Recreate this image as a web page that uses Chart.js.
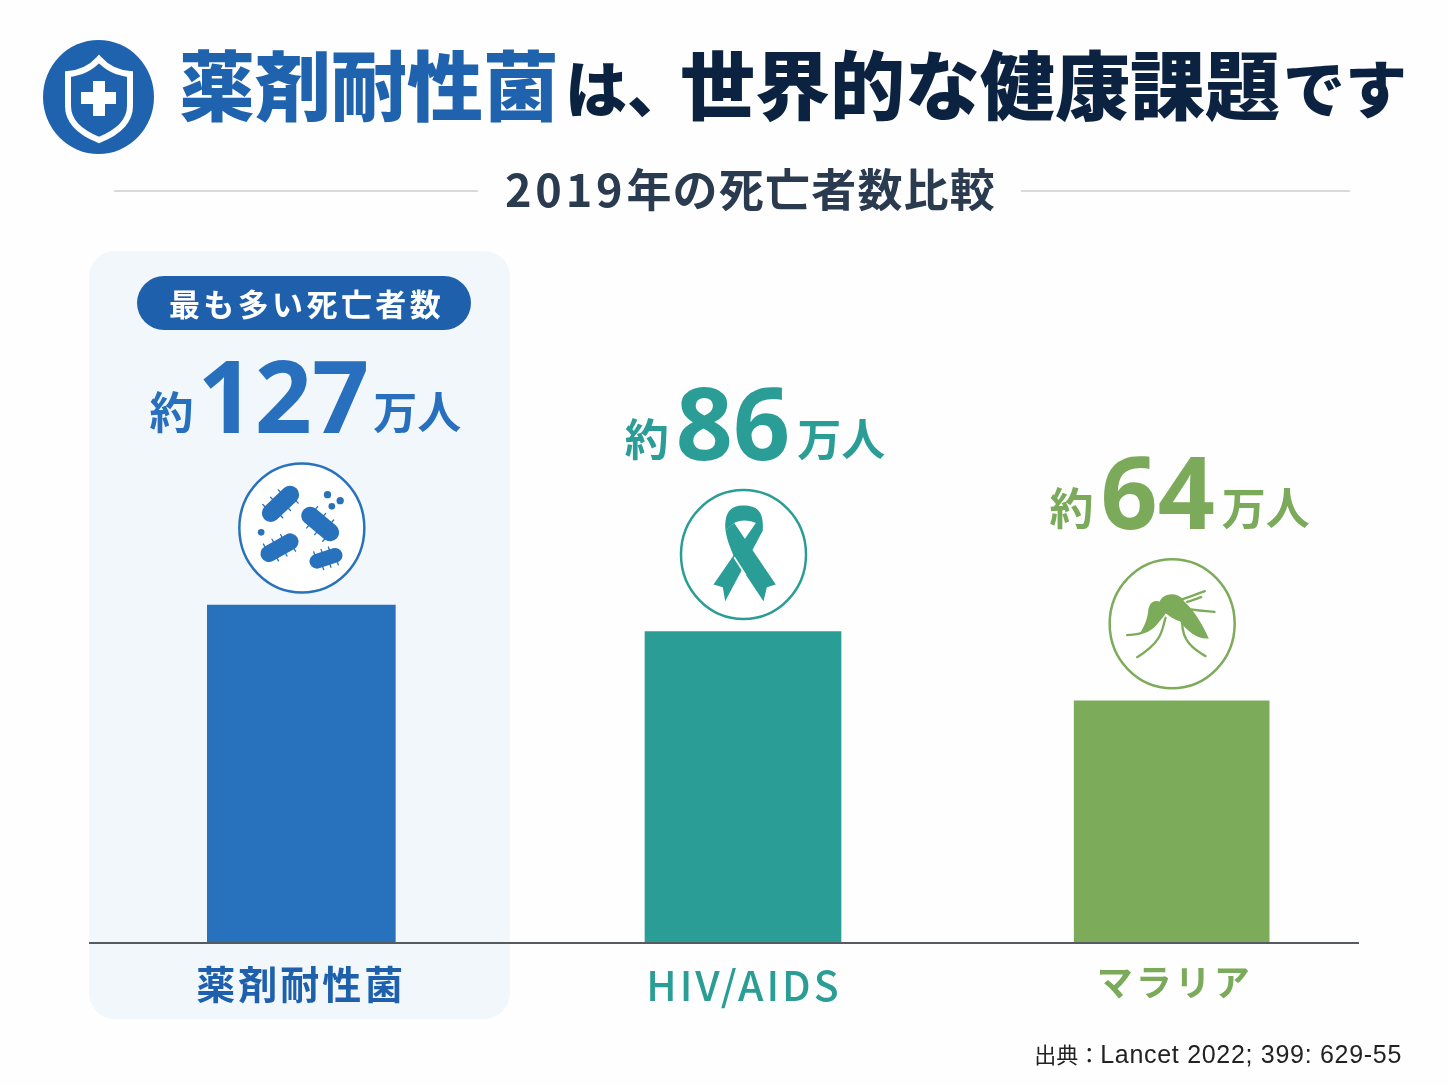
<!DOCTYPE html>
<html lang="ja">
<head>
<meta charset="utf-8">
<title>薬剤耐性菌は、世界的な健康課題です</title>
<script src="https://cdn.jsdelivr.net/npm/chart.js@4/dist/chart.umd.min.js"></script>
<style>
  html, body { margin: 0; padding: 0; background: #fefefe; }
  body { position: relative; width: 1448px; height: 1086px; overflow: hidden; font-family: "Noto Sans CJK JP", sans-serif; }
  #panel { position: absolute; left: 89px; top: 251px; width: 421px; height: 768px; border-radius: 26px; background: #f1f7fb; }
  #lineChart { position: absolute; left: 0; top: 0; }
  .t { position: absolute; white-space: nowrap; font-weight: 900; line-height: 1; }
  .blue { color: #1f62ae; }
  .navy { color: #0b2340; }
  .rule { position: absolute; height: 2px; top: 190px; background: #d6dadd; }
  #sub { position: absolute; left: 505px; top: 160px; font-size: 45px; line-height: 56px; font-weight: 700; color: #2a3b50; letter-spacing: 1.2px; white-space: nowrap; }
  #sub b { font-weight: 700; letter-spacing: 3.8px; }
  #pill { position: absolute; left: 137px; top: 276px; width: 334px; height: 54px; box-sizing: border-box; padding-left: 5px; border-radius: 27px; background: #1f60ad; color: #fff; font-size: 31px; font-weight: 700; letter-spacing: 3.4px; line-height: 54px; text-align: center; }
  #source { position: absolute; right: 46px; top: 1039px; font-family: "Liberation Sans", "Noto Sans CJK JP", sans-serif; font-size: 25px; letter-spacing: 0.7px; line-height: 30px; color: #222; white-space: nowrap; }
  #source span { font-size: 22px; letter-spacing: 0; }
  #badge { position: absolute; left: 43px; top: 40px; }
</style>
</head>
<body>
<div id="panel"></div>
<canvas id="lineChart" width="1448" height="1086"></canvas>

<svg id="badge" width="111" height="114" viewBox="0 0 111 114">
  <ellipse cx="55.5" cy="57" rx="55.5" ry="57" fill="#1f63ae"/>
  <path d="M56 19 C48 28 37 33 25 34 L25 66 C25 84 41 94 56 100 C71 94 87 84 87 66 L87 34 C75 33 64 28 56 19 Z" fill="none" stroke="#fff" stroke-width="6"/>
  <path d="M50 41 H62 V52 H73 V64 H62 V76 H50 V64 H38 V52 H50 Z" fill="#fff"/>
</svg>

<span class="t blue" style="left:179px;top:44px;font-size:76px">薬剤耐性菌</span>
<span class="t navy" style="left:565px;top:55px;font-size:62px">は、</span>
<span class="t navy" style="left:680px;top:44px;font-size:75px">世界的な健康課題</span>
<span class="t navy" style="left:1283px;top:55px;font-size:62px">です</span>

<div class="rule" style="left:114px;width:364px"></div>
<div id="sub"><b>2019</b>年の死亡者数比較</div>
<div class="rule" style="left:1021px;width:329px"></div>

<div id="pill">最も多い死亡者数</div>
<div id="source"><span>出典：</span>Lancet 2022; 399: 629-55</div>

<script>
const categories = ["薬剤耐性菌", "HIV/AIDS", "マラリア"]
// printed labels, in 万人
const printedValues = ["127", "86", "64"]
// bar heights as drawn in the picture (they are not to scale with the printed labels)
const barHeights = [127, 117, 91]
const prefix = "約"
const suffix = "万人"

const colors = ["#2872bd", "#2a9d96", "#7cab5a"]
const textColors = ["#2870be", "#2a9d96", "#7aaa5a"]
const tickColors = ["#1f60ad", "#2a9d96", "#7aaa5a"]
const tickSizes = [39, 41, 36]
const barWidths = [188, 196, 195]
const centerNudge = [0, 19, 25]
const tickNudge = [0, 1, 3]
const labelNudge = [4, 12, 8]
const labelGaps = [4, 7, 7]
const FONT = '"Noto Sans CJK JP", sans-serif'

// the columns in the picture are not evenly spaced
class SlottedScale extends Chart.CategoryScale {
    static id = "slotted"
    static defaults = Chart.CategoryScale.defaults
    getPixelForValue(value) {
        const v = typeof value === "number" ? value : this.parse(value)
        return super.getPixelForValue(v) + (centerNudge[Math.round(v)] || 0)
    }
    getPixelForTick(index) {
        return super.getPixelForTick(index) + tickNudge[index]
    }
}
Chart.register(SlottedScale)

// icons are traced in crop coordinates, then moved to the circle above the bar
function bacteria(ctx) {
    ctx.translate(-665, -835)
    const rods = [[572, 790, 630, 735, 54], [690, 798, 750, 848, 54], [566, 912, 630, 876, 50], [710, 935, 765, 917, 44]]
    ctx.lineCap = "round"
    rods.forEach(r => {
        ctx.lineWidth = r[4]
        ctx.beginPath(); ctx.moveTo(r[0], r[1]); ctx.lineTo(r[2], r[3]); ctx.stroke()
        const len = Math.hypot(r[2] - r[0], r[3] - r[1])
        const nx = -(r[3] - r[1]) / len, ny = (r[2] - r[0]) / len
        ctx.lineWidth = 4
        for (let k = 0; k < 6; k++) {
            const f = k / 5, s = k % 2 ? 1 : -1
            const px = r[0] + (r[2] - r[0]) * f, py = r[1] + (r[3] - r[1]) * f
            ctx.beginPath()
            ctx.moveTo(px, py)
            ctx.lineTo(px + nx * s * (r[4] / 2 + 8), py + ny * s * (r[4] / 2 + 8))
            ctx.stroke()
        }
    })
    const dots = [[742, 735, 11], [780, 753, 11], [755, 770, 10], [543, 848, 10]]
    dots.forEach(d => { ctx.beginPath(); ctx.arc(d[0], d[1], d[2], 0, Math.PI * 2); ctx.fill() })
}

function ribbon(ctx) {
    ctx.translate(-400, -550)
    ctx.beginPath()
    ctx.moveTo(458, 478)
    ctx.bezierCurveTo(462, 420, 440, 403, 400, 403)
    ctx.bezierCurveTo(360, 403, 342, 425, 346, 478)
    ctx.lineTo(372, 455)
    ctx.bezierCurveTo(385, 445, 420, 445, 437, 455)
    ctx.lineTo(310, 640)
    ctx.lineTo(338, 648)
    ctx.lineTo(345, 690)
    ctx.closePath()
    ctx.fill()
    ctx.beginPath()
    ctx.moveTo(372, 455)
    ctx.lineTo(497, 640)
    ctx.lineTo(470, 648)
    ctx.lineTo(460, 690)
    ctx.lineTo(372, 558)
    ctx.bezierCurveTo(360, 530, 350, 505, 346, 478)
    ctx.closePath()
    ctx.fill()
    ctx.strokeStyle = "#ffffff"
    ctx.lineWidth = 5
    ctx.lineCap = "butt"
    ctx.beginPath(); ctx.moveTo(372, 558); ctx.lineTo(407, 612); ctx.stroke()
}

function mosquito(ctx) {
    ctx.translate(-425, -548)
    ctx.beginPath()
    ctx.moveTo(430, 460)
    ctx.bezierCurveTo(475, 480, 512, 540, 535, 592)
    ctx.bezierCurveTo(498, 596, 468, 566, 448, 540)
    ctx.bezierCurveTo(428, 535, 408, 520, 396, 505)
    ctx.closePath()
    ctx.fill()
    ctx.beginPath()
    ctx.ellipse(424, 490, 38, 31, 0, 0, Math.PI * 2)
    ctx.fill()
    ctx.beginPath()
    ctx.moveTo(395, 486)
    ctx.bezierCurveTo(380, 474, 356, 478, 353, 510)
    ctx.bezierCurveTo(350, 540, 338, 558, 330, 574)
    ctx.bezierCurveTo(362, 568, 398, 535, 406, 515)
    ctx.closePath()
    ctx.fill()
    ctx.lineCap = "round"
    ctx.lineWidth = 7
    const strokes = [
        [455, 475, 490, 462, 505, 457, 523, 450],
        [470, 482, 485, 478, 500, 472, 512, 468],
        [470, 503, 500, 508, 525, 510, 552, 512],
        [405, 530, 395, 560, 400, 600, 320, 648],
        [455, 545, 455, 600, 490, 625, 525, 645],
        [385, 535, 370, 565, 340, 580, 290, 582]
    ]
    strokes.forEach(s => {
        ctx.beginPath(); ctx.moveTo(s[0], s[1])
        ctx.bezierCurveTo(s[2], s[3], s[4], s[5], s[6], s[7])
        ctx.stroke()
    })
}

const icons = [bacteria, ribbon, mosquito]

const barDecor = {
    id: "barDecor",
    beforeDraw(chart) {
        chart.ctx.letterSpacing = "3px"
    },
    afterDatasetsDraw(chart) {
        const ctx = chart.ctx
        categories.forEach((name, i) => {
            const bar = chart.getDatasetMeta(i).data[i]
            const cx = bar.x, top = bar.y
            ctx.save()
            ctx.letterSpacing = "0px"

            // value label: 約 + number + 万人 on one baseline
            const base = top - 172
            ctx.fillStyle = textColors[i]
            ctx.textBaseline = "alphabetic"
            ctx.textAlign = "left"
            const small = "700 44px " + FONT
            const big = '700 100px "Noto Sans", sans-serif'
            ctx.font = small
            const preW = ctx.measureText(prefix).width
            const sufW = ctx.measureText(suffix).width
            ctx.font = big
            const numW = ctx.measureText(printedValues[i]).width
            const gap = labelGaps[i]
            let x = cx + labelNudge[i] - (preW + numW + sufW + gap * 2) / 2
            ctx.font = small
            ctx.fillText(prefix, x, base - 4)
            x += preW + gap
            ctx.font = big
            ctx.fillText(printedValues[i], x, base)
            x += numW + gap
            ctx.font = small
            ctx.fillText(suffix, x, base - 4)

            // icon circle
            const cy = top - 77
            ctx.beginPath()
            ctx.ellipse(cx + 0.5, cy, 62.5, 64.5, 0, 0, Math.PI * 2)
            ctx.fillStyle = "#ffffff"
            ctx.fill()
            ctx.lineWidth = 2.5
            ctx.strokeStyle = colors[i]
            ctx.stroke()

            ctx.translate(cx + 0.5, cy)
            ctx.scale(1 / 3, 1 / 3)
            ctx.fillStyle = colors[i]
            ctx.strokeStyle = colors[i]
            icons[i](ctx)
            ctx.restore()
        })
    }
}

const chart = new Chart(document.getElementById("lineChart"), {
    type: "bar",
    data: {
        labels: categories,
        datasets: categories.map((name, i) => ({
            label: name,
            data: categories.map((c, j) => j === i ? barHeights[i] : null),
            backgroundColor: colors[i],
            barThickness: barWidths[i],
            borderWidth: 0
        }))
    },
    options: {
        responsive: false,
        animation: false,
        layout: { padding: { left: 90, right: 90, top: 251, bottom: 0 } },
        plugins: {
            legend: { display: false },
            title: { display: false },
            tooltip: { enabled: false }
        },
        scales: {
            x: {
                type: "slotted",
                stacked: true,
                afterFit(scale) { scale.height = 143 },
                grid: { display: false },
                border: { display: true, color: "#555b61", width: 2, z: 1 },
                ticks: {
                    maxRotation: 0,
                    autoSkip: false,
                    padding: 10,
                    color: ctx => tickColors[ctx.index],
                    font: ctx => ({ family: FONT, size: tickSizes[ctx.index], weight: ctx.index === 1 ? "500" : "700" })
                }
            },
            y: {
                display: false,
                stacked: true,
                min: 0,
                max: 260
            }
        }
    },
    plugins: [barDecor]
})
</script>
</body>
</html>
